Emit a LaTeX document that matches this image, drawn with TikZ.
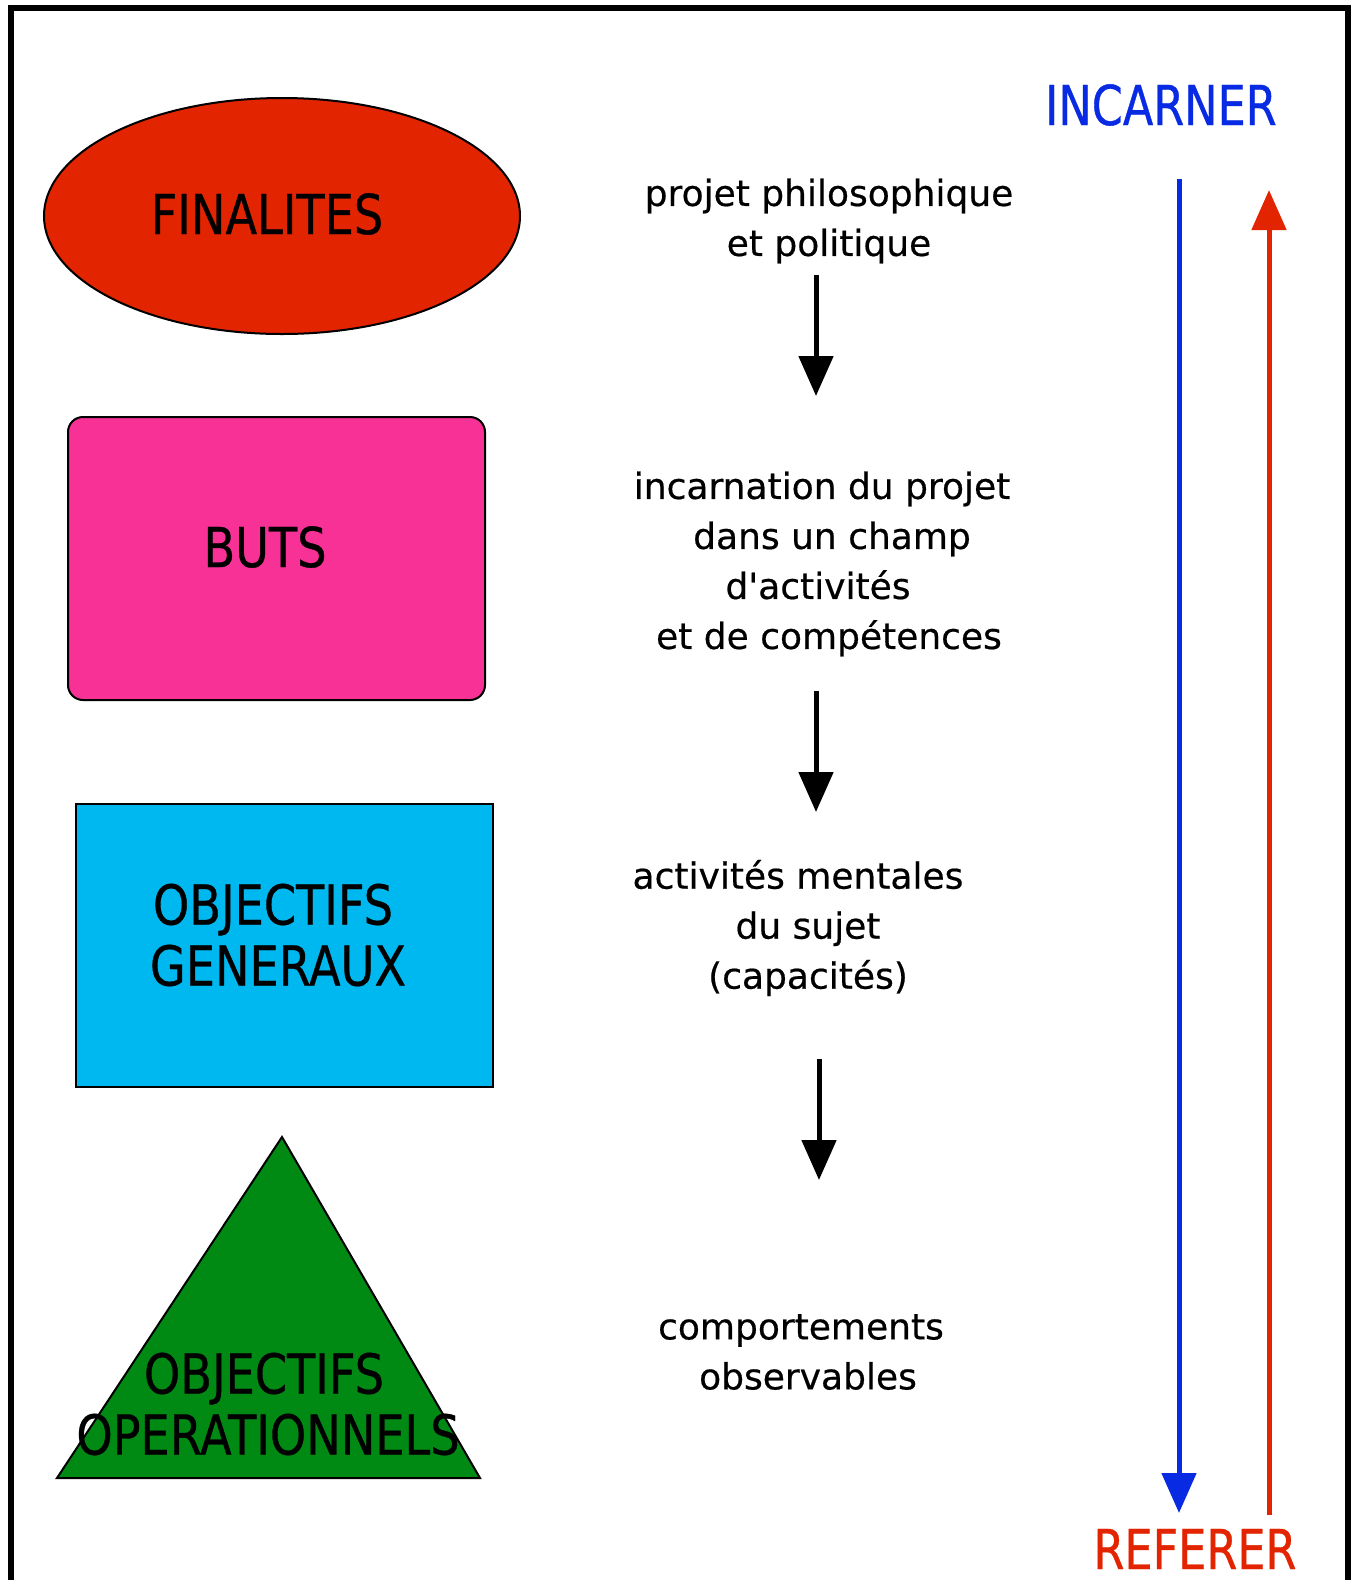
\documentclass[tikz,border=0pt]{standalone}
\usepackage{fontspec}
\setmainfont[FakeBold=0.5]{DejaVu Sans}
\newfontfamily\capfont[FakeStretch=0.84,FakeBold=0.6]{DejaVu Sans}
\newfontfamily\sidefont[FakeStretch=0.81,FakeBold=0.6]{DejaVu Sans}
\usetikzlibrary{arrows.meta}
\definecolor{finred}{RGB}{227,36,0}
\definecolor{butpink}{RGB}{247,49,150}
\definecolor{genblue}{RGB}{0,184,240}
\definecolor{opgreen}{RGB}{0,138,20}
\definecolor{incblue}{RGB}{8,42,226}
\newcommand{\bigcaps}{\capfont\fontsize{55}{61}\selectfont}
\newcommand{\sidecaps}{\sidefont\fontsize{55}{61}\selectfont}
\newcommand{\smalltext}{\fontsize{36}{50}\selectfont}

\begin{document}
\begin{tikzpicture}[x=1pt, y=-1pt,
  shapeline/.style={draw=black, line width=2pt},
  caplabel/.style={font=\bigcaps, align=center, inner sep=0pt},
  sidelabel/.style={font=\sidecaps, inner sep=0pt},
  desc/.style={font=\smalltext, align=center, inner sep=0pt},
  darrow/.style={line width=5pt, -{Triangle[width=34pt,length=40pt]}}]
  \useasboundingbox (0,0) rectangle (1357,1580);
  % frame, open at the bottom
  \draw[line width=6pt] (11,1600) -- (11,8) -- (1348,8) -- (1348,1600);

  % the four levels
  \draw[shapeline, fill=finred] (282,216) ellipse [x radius=238pt, y radius=118pt];
  \draw[shapeline, fill=butpink, rounded corners=15pt] (68,417) rectangle (485,700);
  \draw[shapeline, fill=genblue] (76,804) rectangle (493,1087);
  \draw[shapeline, fill=opgreen] (282,1137) -- (480,1478) -- (57,1478) -- cycle;

  \node[caplabel] (finalites) at (267,214) {FINALITES};
  \node[caplabel] (buts) at (265,547) {BUTS};
  \node[caplabel] (objgen) at (278,935) {OBJECTIFS\hspace*{10pt}\\GENERAUX};
  \node[caplabel] (objop) at (268,1404) {OBJECTIFS\hspace*{8pt}\\OPERATIONNELS};

  % what each level means
  \node[desc] (projet) at (829,221) {projet philosophique\\et politique};
  \node[desc] (champ) at (826,564) {incarnation du projet\hspace*{8pt}\\
    \hspace*{12pt}dans un champ\\\hspace*{-16pt}d\textquotesingle activités\\
    \hspace*{6pt}et de compétences};
  \node[desc] (capac) at (808,928) {activités mentales\hspace*{20pt}\\du sujet\\(capacités)};
  \node[desc] (compor) at (808,1352) {comportements\hspace*{14pt}\\observables};

  \coordinate (a1) at (816,275);  \coordinate (b1) at (816,396);
  \coordinate (a2) at (816,691);  \coordinate (b2) at (816,812);
  \coordinate (a3) at (819,1059); \coordinate (b3) at (819,1180);
  \foreach \s/\e in {a1/b1,a2/b2,a3/b3}
    \draw[darrow] (\s) -- (\e);

  % the two directions
  \node[sidelabel, text=incblue] (incarner) at (1161,105) {INCARNER};
  \node[sidelabel, text=finred] (referer) at (1195,1549) {REFERER};
  \coordinate (inc top) at (1179,179);
  \coordinate (inc end) at (1179,1513);
  \coordinate (ref bot) at (1269,1515);
  \coordinate (ref end) at (1269,190);
  \draw[darrow, draw=incblue, fill=incblue] (inc top) -- (inc end);
  \draw[darrow, draw=finred, fill=finred] (ref bot) -- (ref end);
\end{tikzpicture}
\end{document}
